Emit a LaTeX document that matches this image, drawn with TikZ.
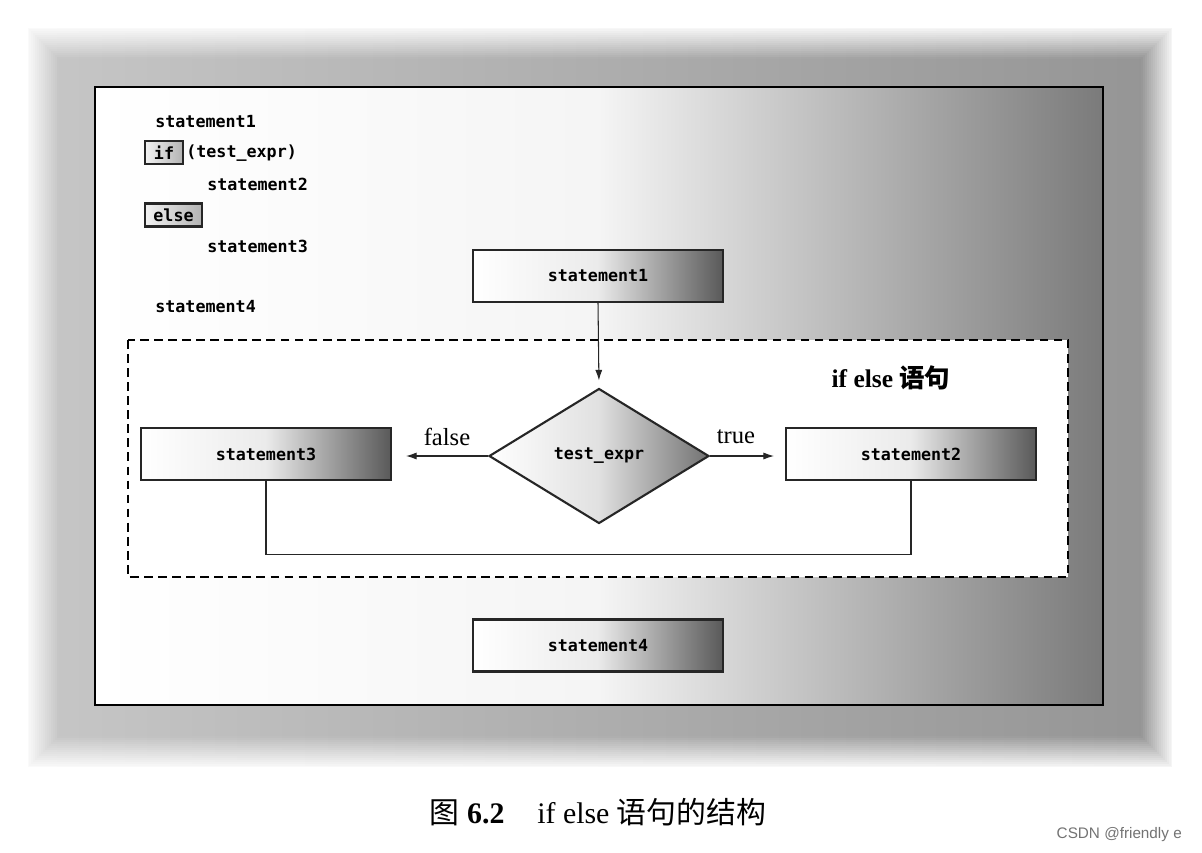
\documentclass[tikz,border=0pt]{standalone}
\usepackage{fontspec}
\setmainfont{Liberation Serif}
\setmonofont{DejaVu Sans Mono}
\newfontfamily\cjk{Noto Sans CJK SC}
\newfontfamily\wmfont{Liberation Sans}
\usetikzlibrary{shapes.geometric,arrows.meta}
\newcommand{\codefont}{\fontsize{9.5}{11}\selectfont\ttfamily\bfseries}
\tikzset{
  stmt/.style={draw=black!85, line width=1.2pt, minimum width=5cm, minimum height=1.04cm, inner sep=0pt, left color=white, right color=black!65, middle color=white!92!black, font=\codefont},
  kwbox/.style={draw=black!85, line width=1.2pt, minimum width=0.76cm, minimum height=0.46cm, inner sep=0pt, left color=black!5, right color=black!30, font=\codefont},
  code/.style={anchor=west, inner sep=0pt, font=\codefont},
  lbl/.style={font=\fontsize{14}{16}\selectfont},
  flow/.style={-{Latex[length=6pt,width=4pt]}, line width=0.6pt, black!85},
}
\begin{document}
\begin{tikzpicture}[x=0.02cm,y=-0.02cm]
\useasboundingbox (0,0) rectangle (1202,852);
\fill[white] (0,0) rectangle (1202,852);
\shade[left color=black!22, right color=black!42] (25,25) rectangle (1175,770);
\draw[white, line width=3pt] (25,25) rectangle (1175,770);
\foreach \d [evaluate=\d as \o using 1-\d/34] in {1,3,...,33}
  \draw[white, opacity=\o, line width=1.2pt] (25+\d,25+\d) rectangle (1175-\d,770-\d);
\draw[line width=1.6pt, left color=white, right color=black!52, middle color=white!96!black] (95,87) rectangle (1103,705);
\draw[dashed, line width=1.3pt, dash pattern=on 5pt off 3pt, fill=white] (128,340) rectangle (1068,577);
\node[code] (c1) at (155,122) {statement1};
\node[kwbox] (kwif) at (164,152.5) {if};
\node[code] (c2) at (186,153) {(test\_expr)};
\node[code] (c3) at (207,184) {statement2};
\node[kwbox, minimum width=1.14cm] (kwelse) at (173.5,215) {else};
\node[code] (c4) at (207,246) {statement3};
\node[code] (c5) at (155,307) {statement4};
\node[stmt] (s1) at (598,276) {statement1};
\node[diamond, draw=black!85, line width=1.2pt, minimum width=4.4cm, minimum height=2.7cm, inner sep=0pt, aspect=1.63, left color=white, right color=black!55, middle color=white!88!black, font=\codefont] (test) at (599,456) {test\_expr};
\node[stmt] (s3) at (266,454) {statement3};
\node[stmt] (s2) at (911,454) {statement2};
\node[stmt] (s4) at (598,645.5) {statement4};
\draw[flow, shorten >=0.14cm] (s1.south) -- (test.north);
\draw[flow, shorten >=0.28cm] (test.west) -- (test.west -| s3.east);
\draw[flow, shorten >=0.22cm] (test.east) -- (test.east -| s2.west);
\draw[line width=0.6pt, black!85] (s3.south) -- ++(0,73) -| (s2.south);
\node[lbl] (fl) at (447,437) {false};
\node[lbl] (tr) at (736,437) {true};
\node[font=\fontsize{14.5}{16}\selectfont\bfseries] (title) at (891,378) {if else {\cjk 语句}};
\node[font=\fontsize{17}{20}\selectfont] (cap) at (598,812) {{\cjk 图} \textbf{6.2}\hspace{1.1em}if else {\cjk 语句的结构}};
\node[anchor=east, text=black!55, font=\wmfont\fontsize{8.7}{10}\selectfont] (wm) at (1188,835) {CSDN @friendly e};
\end{tikzpicture}
\end{document}
